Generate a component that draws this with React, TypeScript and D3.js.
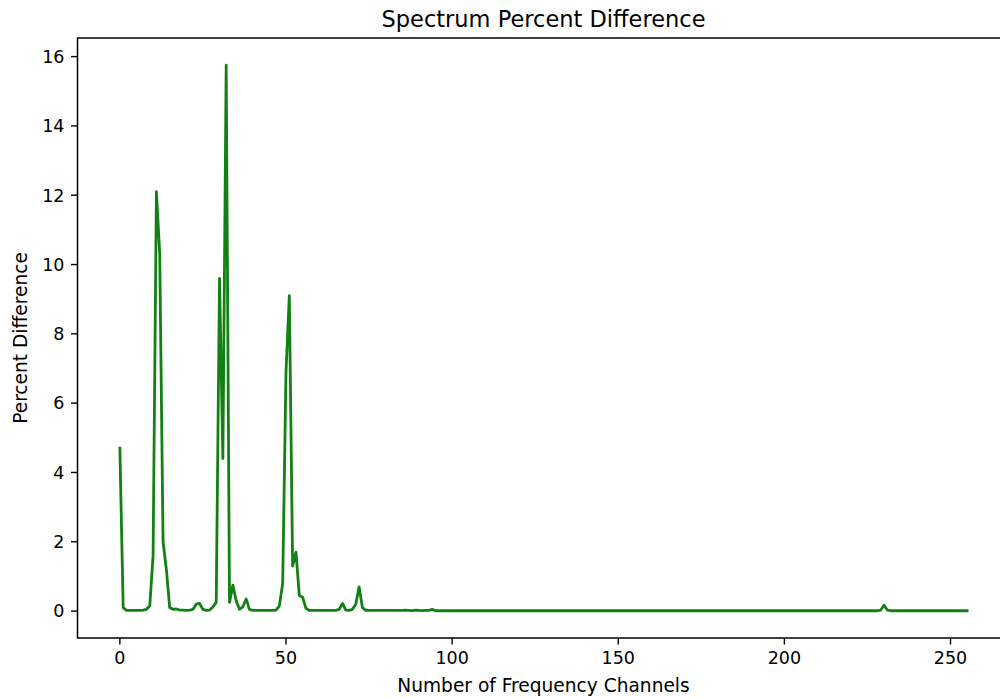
import React from "react";
import * as d3 from "d3";

// Percent difference per frequency channel (0..255)
const values: number[] = [
  4.7, 0.1, 0.02, 0.02, 0.02, 0.02, 0.02, 0.03, 0.05, 0.15,
  1.6, 12.1, 10.3, 2.0, 1.2, 0.1, 0.05, 0.06, 0.03, 0.03,
  0.02, 0.03, 0.05, 0.2, 0.22, 0.05, 0.02, 0.03, 0.12, 0.25,
  9.6, 4.4, 15.75, 0.25, 0.75, 0.3, 0.05, 0.12, 0.35, 0.05,
  0.02, 0.02, 0.02, 0.02, 0.02, 0.02, 0.02, 0.03, 0.15, 0.8,
  6.9, 9.1, 1.3, 1.7, 0.45, 0.4, 0.08, 0.02, 0.02, 0.02,
  0.02, 0.02, 0.02, 0.02, 0.02, 0.02, 0.05, 0.22, 0.03, 0.02,
  0.05, 0.2, 0.7, 0.1, 0.02, 0.02, 0.02, 0.02, 0.02, 0.02,
  0.02, 0.02, 0.02, 0.02, 0.02, 0.02, 0.03, 0.02, 0.01, 0.03,
  0.02, 0.01, 0.02, 0.02, 0.05, 0.01, 0.01, 0.01, 0.01, 0.01,
  0.01, 0.01, 0.01, 0.01, 0.01, 0.01, 0.01, 0.01, 0.01, 0.01,
  0.01, 0.01, 0.01, 0.01, 0.01, 0.01, 0.01, 0.01, 0.01, 0.01,
  0.01, 0.01, 0.01, 0.01, 0.01, 0.01, 0.01, 0.01, 0.01, 0.01,
  0.01, 0.01, 0.01, 0.01, 0.01, 0.01, 0.01, 0.01, 0.01, 0.01,
  0.01, 0.01, 0.01, 0.01, 0.01, 0.01, 0.01, 0.01, 0.01, 0.01,
  0.01, 0.01, 0.01, 0.01, 0.01, 0.01, 0.01, 0.01, 0.01, 0.01,
  0.01, 0.01, 0.01, 0.01, 0.01, 0.01, 0.01, 0.01, 0.01, 0.01,
  0.01, 0.01, 0.01, 0.01, 0.01, 0.01, 0.01, 0.01, 0.01, 0.01,
  0.01, 0.01, 0.01, 0.01, 0.01, 0.01, 0.01, 0.01, 0.01, 0.01,
  0.01, 0.01, 0.01, 0.01, 0.01, 0.01, 0.01, 0.01, 0.01, 0.01,
  0.01, 0.01, 0.01, 0.01, 0.01, 0.01, 0.01, 0.01, 0.01, 0.01,
  0.01, 0.01, 0.01, 0.01, 0.01, 0.01, 0.01, 0.01, 0.01, 0.01,
  0.01, 0.01, 0.01, 0.01, 0.01, 0.01, 0.01, 0.01, 0.01, 0.03,
  0.17, 0.03, 0.01, 0.01, 0.01, 0.01, 0.01, 0.01, 0.01, 0.01,
  0.01, 0.01, 0.01, 0.01, 0.01, 0.01, 0.01, 0.01, 0.01, 0.01,
  0.01, 0.01, 0.01, 0.01, 0.01, 0.01,
];

const xTicks: number[] = [0, 50, 100, 150, 200, 250];
const yTicks: number[] = [0, 2, 4, 6, 8, 10, 12, 14, 16];

const title = "Spectrum Percent Difference";
const xLabel = "Number of Frequency Channels";
const yLabel = "Percent Difference";

const W = 1000;
const H = 698;
const left = 77.5;
const right = 1009.5;
const top = 38;
const bottom = 638;
const FONT = "DejaVu Sans, sans-serif";

export default function App() {
  const n = values.length - 1;
  const xPad = n * 0.05;
  const yMin = d3.min(values) as number;
  const yMax = d3.max(values) as number;
  const yPad = (yMax - yMin) * 0.05;

  const x = d3.scaleLinear().domain([-xPad, n + xPad]).range([left, right]);
  const y = d3.scaleLinear().domain([yMin - yPad, yMax + yPad]).range([bottom, top]);

  const line = d3
    .line<number>()
    .x((_, i) => x(i))
    .y((d) => y(d));

  const tickLen = 6.5;
  const fs = 17.5;
  const labelFs = 18.6;

  return (
    <div style={{ position: "absolute", left: 0, top: 0 }}>
      <svg width={W} height={H} style={{ display: "block", background: "#fff" }}>
        <defs>
          <clipPath id="plot">
            <rect x={left} y={top} width={right - left} height={bottom - top} />
          </clipPath>
        </defs>
        <path
          d={line(values) || ""}
          fill="none"
          stroke="#138013"
          strokeWidth={2.8}
          strokeLinejoin="round"
          strokeLinecap="square"
          clipPath="url(#plot)"
        />
        {/* spines */}
        <rect
          x={left}
          y={top}
          width={right - left}
          height={bottom - top}
          fill="none"
          stroke="#000"
          strokeWidth={1.5}
        />
        {/* x ticks */}
        {xTicks.map((t) => (
          <g key={"x" + t}>
            <line x1={x(t)} x2={x(t)} y1={bottom} y2={bottom + tickLen} stroke="#000" strokeWidth={1.4} />
            <text
              x={x(t)}
              y={bottom + tickLen + 6 + fs * 0.76}
              textAnchor="middle"
              fontFamily={FONT}
              fontSize={fs}
              fill="#000"
            >
              {t}
            </text>
          </g>
        ))}
        {/* y ticks */}
        {yTicks.map((t) => (
          <g key={"y" + t}>
            <line x1={left - tickLen} x2={left} y1={y(t)} y2={y(t)} stroke="#000" strokeWidth={1.4} />
            <text
              x={left - tickLen - 6.5}
              y={y(t)}
              dy="0.36em"
              textAnchor="end"
              fontFamily={FONT}
              fontSize={fs}
              fill="#000"
            >
              {t}
            </text>
          </g>
        ))}
        <text x={(left + right) / 2} y={27} textAnchor="middle" fontFamily={FONT} fontSize={22.5} fill="#000">
          {title}
        </text>
        <text x={(left + right) / 2} y={692} textAnchor="middle" fontFamily={FONT} fontSize={labelFs} fill="#000">
          {xLabel}
        </text>
        <text
          transform={`translate(27, ${(top + bottom) / 2}) rotate(-90)`}
          textAnchor="middle"
          fontFamily={FONT}
          fontSize={labelFs}
          fill="#000"
        >
          {yLabel}
        </text>
      </svg>
    </div>
  );
}
